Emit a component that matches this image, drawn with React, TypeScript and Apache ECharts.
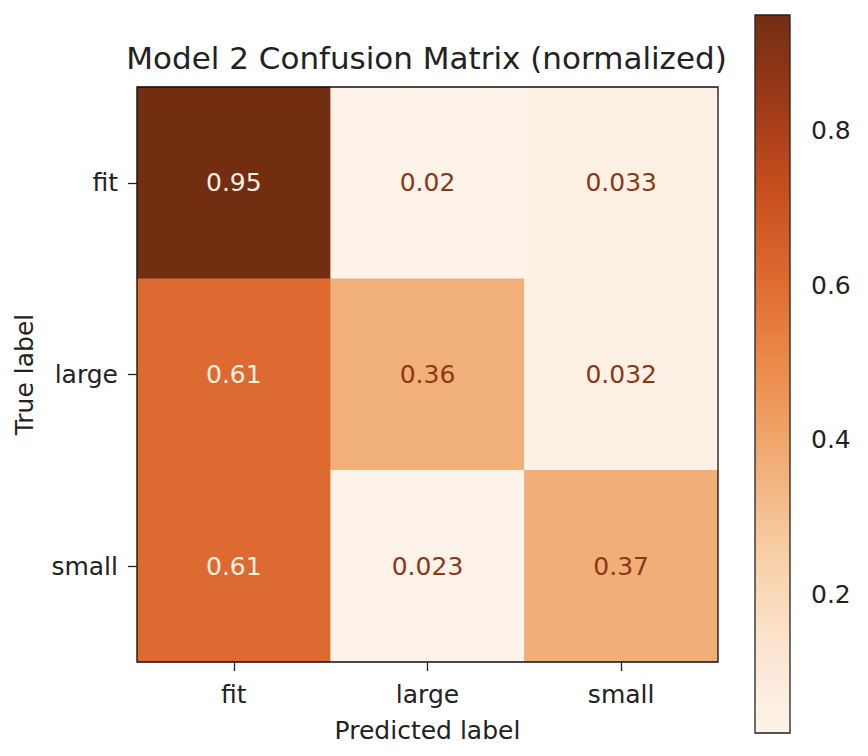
import React, { useEffect, useRef } from "react";
import * as echarts from "echarts";

const predictedLabels = ["fit", "large", "small"];
const trueLabels = ["fit", "large", "small"];
// rows = true label, columns = predicted label
const rowFit = [0.95, 0.02, 0.033];
const rowLarge = [0.61, 0.36, 0.032];
const rowSmall = [0.61, 0.023, 0.37];
const colorbarTicks = [0.2, 0.4, 0.6, 0.8];
const colorMin = 0.02;
const colorMax = 0.95;

const palette = [
  "#fdf3e9",
  "#fbe4cf",
  "#f7cfa5",
  "#f1ae77",
  "#ec8e4d",
  "#df6c31",
  "#c9501f",
  "#9e3a17",
  "#732e12",
];

const FONT = "DejaVu Sans";
const FS = 25;
const INK = "#222";

const GRID = { left: 137, top: 87, width: 581, height: 575 };
const CBAR = { left: 755, top: 15, width: 35, height: 718 };

export default function App() {
  const ref = useRef<HTMLDivElement>(null);
  useEffect(() => {
    document.body.style.margin = "0";
    if (!ref.current) return;
    const chart = echarts.init(ref.current, null, { renderer: "svg" });
    const rows = [rowFit, rowLarge, rowSmall];
    const cells: [number, number, number][] = [];
    rows.forEach((row, yi) => row.forEach((v, xi) => cells.push([xi, yi, v])));
    const threshold = (colorMin + colorMax) / 2;

    const gradStops = palette
      .slice()
      .reverse()
      .map((c, i) => ({ offset: i / (palette.length - 1), color: c }));

    chart.setOption({
      animation: false,
      backgroundColor: "#ffffff",
      textStyle: { fontFamily: FONT },
      title: {
        text: "Model 2 Confusion Matrix (normalized)",
        left: GRID.left + GRID.width / 2 - 6,
        textAlign: "center",
        top: 37,
        textStyle: { fontFamily: FONT, fontSize: 31, fontWeight: "normal", color: INK },
      },
      grid: [
        { ...GRID, containLabel: false },
        { ...CBAR, containLabel: false },
      ],
      xAxis: [
        {
          type: "category",
          gridIndex: 0,
          data: predictedLabels,
          position: "bottom",
          name: "Predicted label",
          nameLocation: "middle",
          nameGap: 56,
          nameTextStyle: { fontFamily: FONT, fontSize: FS, color: INK },
          axisLine: { show: false },
          axisTick: { show: true, alignWithLabel: true, length: 9, lineStyle: { color: INK, width: 1.3 } },
          axisLabel: { fontFamily: FONT, fontSize: FS, color: INK, margin: 20 },
          splitLine: { show: false },
        },
        {
          type: "value",
          gridIndex: 1,
          show: false,
          min: 0,
          max: 1,
        },
      ],
      yAxis: [
        {
          type: "category",
          gridIndex: 0,
          data: trueLabels,
          inverse: true,
          name: "True label",
          nameLocation: "middle",
          nameGap: 100,
          nameTextStyle: { fontFamily: FONT, fontSize: FS, color: INK },
          axisLine: { show: false },
          axisTick: { show: true, alignWithLabel: true, length: 9, lineStyle: { color: INK, width: 1.3 } },
          axisLabel: { fontFamily: FONT, fontSize: FS, color: INK, margin: 19 },
          splitLine: { show: false },
        },
        {
          type: "value",
          gridIndex: 1,
          position: "right",
          min: colorMin,
          max: colorMax,
          axisLine: { show: false },
          splitLine: { show: false },
          axisTick: {
            show: true,
            length: 9,
            customValues: colorbarTicks,
            lineStyle: { color: INK, width: 1.3 },
          },
          axisLabel: {
            show: true,
            customValues: colorbarTicks,
            fontFamily: FONT,
            fontSize: FS,
            color: INK,
            margin: 21,
            formatter: (v: number) => v.toFixed(1),
          },
        },
      ],
      visualMap: {
        show: false,
        min: colorMin,
        max: colorMax,
        seriesIndex: 0,
        inRange: { color: palette },
      },
      graphic: [
        {
          type: "rect",
          z: 5,
          shape: { x: CBAR.left, y: CBAR.top, width: CBAR.width, height: CBAR.height },
          style: {
            fill: new echarts.graphic.LinearGradient(0, 0, 0, 1, gradStops),
            stroke: INK,
            lineWidth: 1.3,
          },
        },
        {
          type: "rect",
          z: 50,
          shape: { x: GRID.left, y: GRID.top, width: GRID.width, height: GRID.height },
          style: { fill: "none", stroke: "#111", lineWidth: 1.3 },
        },
      ],
      series: [
        {
          type: "heatmap",
          xAxisIndex: 0,
          yAxisIndex: 0,
          data: cells.map((d) => ({
            value: d,
            label: { color: d[2] > threshold ? "#fcefe3" : "#8c3818" },
          })),
          itemStyle: { borderWidth: 0 },
          label: {
            show: true,
            fontFamily: FONT,
            fontSize: FS,
            formatter: (p: any) => String(Number(p.value[2].toPrecision(2))),
          },
        },
      ],
    });

    return () => chart.dispose();
  }, []);
  return <div ref={ref} style={{ width: 868, height: 756 }} />;
}
